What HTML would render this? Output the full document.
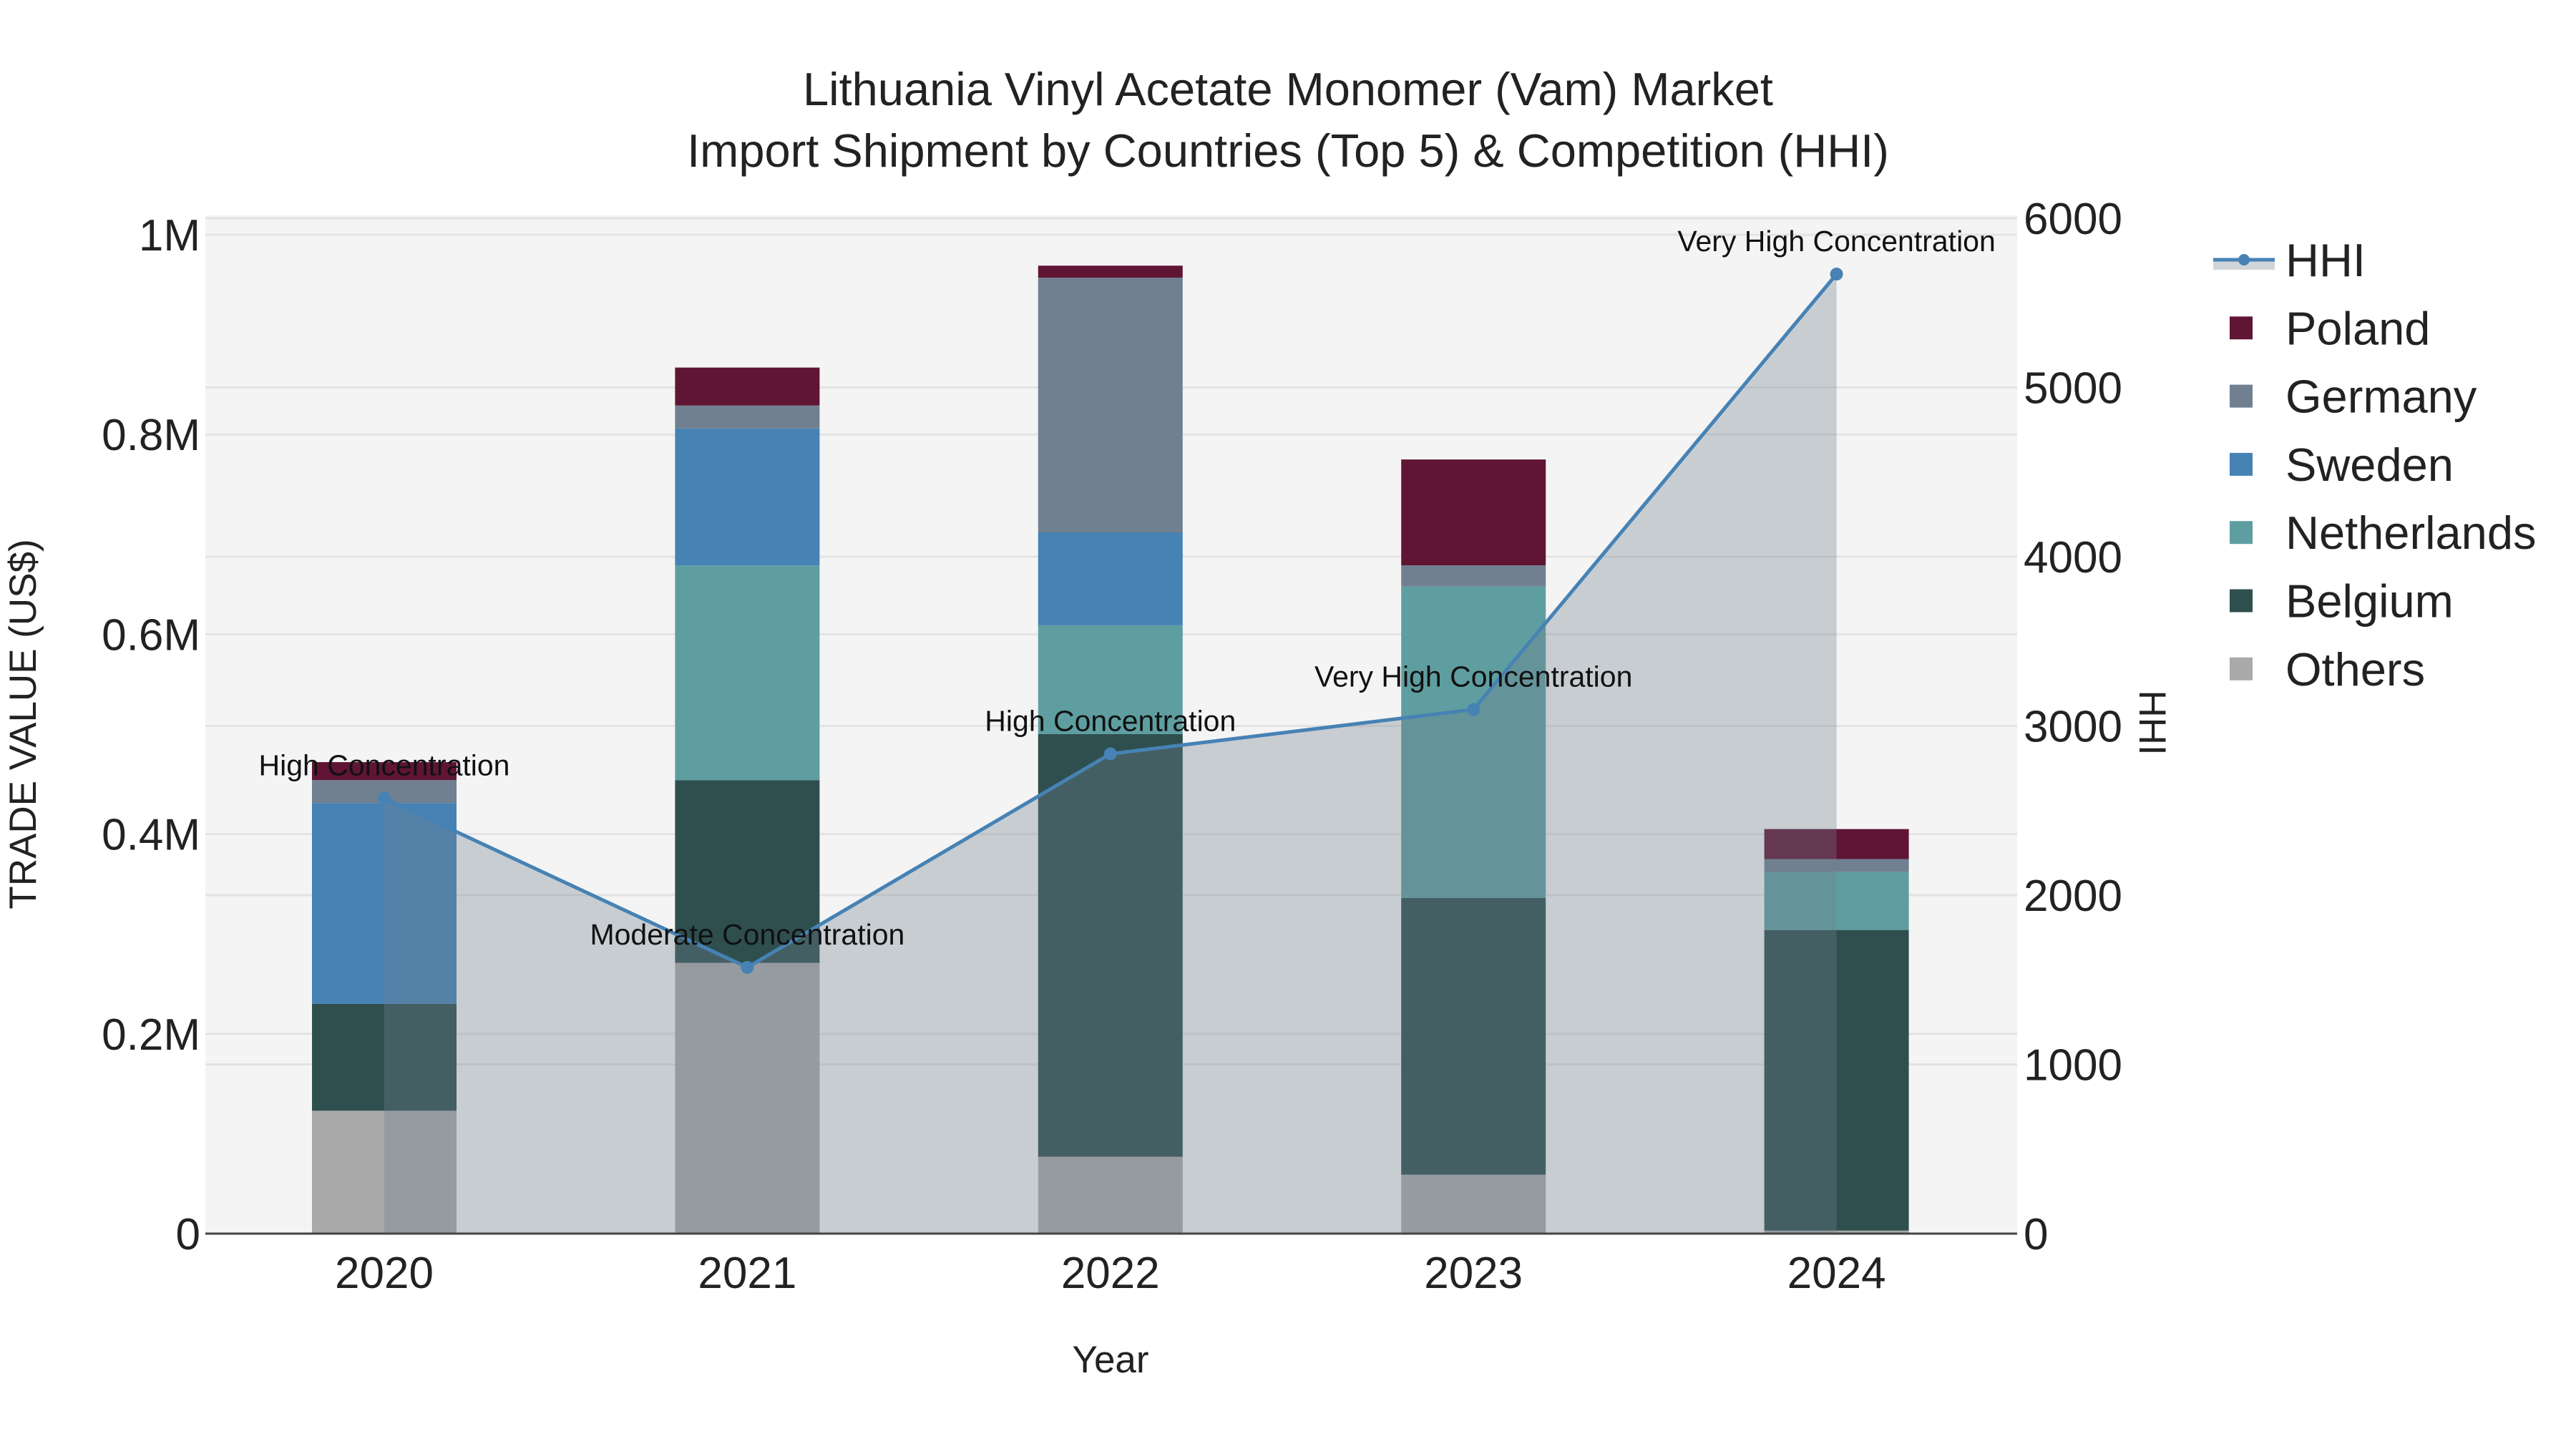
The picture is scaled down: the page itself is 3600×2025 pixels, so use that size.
<!DOCTYPE html>
<html><head><meta charset="utf-8"><style>
html,body{margin:0;padding:0;background:#fff}
svg{display:block;font-family:"Liberation Sans",Arial,sans-serif}
</style></head><body>
<svg id="chart" width="3600" height="2025" viewBox="0 0 3600 2025" xmlns="http://www.w3.org/2000/svg">
<rect x="287" y="301" width="2532" height="1423" fill="#f4f4f4"/>
<g id="grid"></g>
<g id="bars"></g>
<g id="area"></g>
<g id="ticks"></g>
<text x="1800" y="147" font-size="65" text-anchor="middle" fill="#222">Lithuania Vinyl Acetate Monomer (Vam) Market</text>
<text x="1800" y="233" font-size="65" text-anchor="middle" fill="#222">Import Shipment by Countries (Top 5) &amp; Competition (HHI)</text>
<text transform="translate(50,1012) rotate(-90)" font-size="53" text-anchor="middle" fill="#222">TRADE VALUE (US$)</text>
<text transform="translate(2990,1010) rotate(90)" font-size="53" text-anchor="middle" fill="#222">HHI</text>
<text x="1552" y="1918" font-size="53" text-anchor="middle" fill="#222">Year</text>
<g id="legend"></g>
</svg>
<script>
const years = ["2020","2021","2022","2023","2024"];
const countries = ["Others","Belgium","Netherlands","Sweden","Germany","Poland"];
const others      = [0.123e6, 0.271e6, 0.077e6, 0.059e6, 0.003e6];
const belgium     = [0.107e6, 0.183e6, 0.423e6, 0.277e6, 0.301e6];
const netherlands = [0, 0.215e6, 0.109e6, 0.312e6, 0.058e6];
const sweden      = [0.201e6, 0.137e6, 0.093e6, 0, 0];
const germany     = [0.023e6, 0.023e6, 0.255e6, 0.021e6, 0.013e6];
const poland      = [0.018e6, 0.038e6, 0.012e6, 0.106e6, 0.030e6];
const hhi = [2573, 1573, 2835, 3097, 5670];
const hhiLabels = ["High Concentration","Moderate Concentration","High Concentration","Very High Concentration","Very High Concentration"];
const leftTicks = [0, 200000, 400000, 600000, 800000, 1000000];
const leftTickLabels = ["0","0.2M","0.4M","0.6M","0.8M","1M"];
const rightTicks = [0,1000,2000,3000,4000,5000,6000];

const NS="http://www.w3.org/2000/svg";
const colors = {Others:"#a9a9a9",Belgium:"#2f4f4f",Netherlands:"#5f9ea0",Sweden:"#4682b4",Germany:"#708090",Poland:"#601535"};
const series = {Others:others,Belgium:belgium,Netherlands:netherlands,Sweden:sweden,Germany:germany,Poland:poland};
const X0=287, X1=2819, Y0=1724;
function xScale(i){return 537 + i*507.4;}
function yL(v){return Y0 - v/1e6*1396;}
function yR(h){return Y0 - h/6000*1419;}
function mk(tag, attrs, parent){const e=document.createElementNS(NS,tag);for(const k in attrs)e.setAttribute(k,attrs[k]);parent.appendChild(e);return e;}

const grid=document.getElementById('grid');
leftTicks.forEach(t=>{ if(t>0){const l=mk('line',{x1:X0,x2:X1,y1:yL(t),y2:yL(t),stroke:'#e3e3e3','stroke-width':3},grid);

}});
rightTicks.forEach(t=>{ if(t>0){const l=mk('line',{x1:X0,x2:X1,y1:yR(t),y2:yR(t),stroke:'#e3e3e3','stroke-width':3},grid);

}});

const bars=document.getElementById('bars');
const bw=202;
years.forEach((y,i)=>{
  let cum=0;
  countries.forEach(c=>{
    const v=series[c][i];
    if(v>0){
      const r=mk('rect',{x:xScale(i)-bw/2,y:yL(cum+v),width:bw,height:yL(cum)-yL(cum+v),fill:colors[c]},bars);
      
      
    }
    cum+=v;
  });
});

const area=document.getElementById('area');
let pts=hhi.map((h,i)=>xScale(i)+','+yR(h)).join(' ');
const poly=mk('polygon',{points:xScale(0)+','+Y0+' '+pts+' '+xScale(hhi.length-1)+','+Y0,fill:'rgba(112,128,144,0.33)'},area);


const zl=mk('line',{x1:X0,x2:X1,y1:Y0,y2:Y0,stroke:'#444','stroke-width':3},area);


const line=mk('polyline',{points:pts,fill:'none',stroke:'#4682b4','stroke-width':5},area);


hhi.forEach((h,i)=>{
  const c=mk('circle',{cx:xScale(i),cy:yR(h),r:9,fill:'#4682b4'},area);
  
  
  const t=mk('text',{x:xScale(i),y:yR(h)-32,'font-size':41,'text-anchor':'middle',fill:'#111'},area);
  t.textContent=hhiLabels[i];
  
  
});

const ticks=document.getElementById('ticks');
leftTicks.forEach((t,i)=>{
  const e=mk('text',{x:280,y:yL(t)+22,'font-size':62,'text-anchor':'end',fill:'#222'},ticks);
  e.textContent=leftTickLabels[i];
  
  
});
rightTicks.forEach(t=>{
  const e=mk('text',{x:2828,y:yR(t)+22,'font-size':62,'text-anchor':'start',fill:'#222'},ticks);
  e.textContent=String(t);
  
  
});
years.forEach((y,i)=>{
  const e=mk('text',{x:xScale(i),y:1800,'font-size':62,'text-anchor':'middle',fill:'#222'},ticks);
  e.textContent=y;
  
  
});

const lg=document.getElementById('legend');
const legendItems=["HHI","Poland","Germany","Sweden","Netherlands","Belgium","Others"];
legendItems.forEach((n,k)=>{
  const cy=363+k*95.3;
  const g=mk('g',{},lg);
  
  
  if(n==="HHI"){
    mk('rect',{x:3093,y:cy,width:86,height:14,fill:'rgba(112,128,144,0.33)'},g);
    mk('line',{x1:3093,x2:3179,y1:cy,y2:cy,stroke:'#4682b4','stroke-width':5},g);
    mk('circle',{cx:3136,cy:cy,r:8,fill:'#4682b4'},g);
  } else {
    mk('rect',{x:3116,y:cy-16,width:32,height:32,fill:colors[n]},g);
  }
  const t=mk('text',{x:3194,y:cy+23,'font-size':65,fill:'#222'},g);
  t.textContent=n;
});
</script>
</body></html>
